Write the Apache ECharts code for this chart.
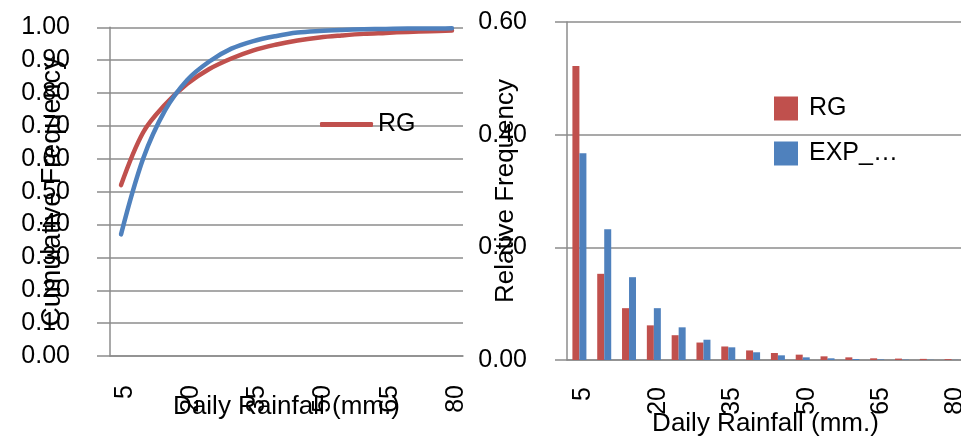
<!DOCTYPE html>
<html>
<head>
<meta charset="utf-8">
<script src="https://cdn.jsdelivr.net/npm/echarts@6/dist/echarts.min.js"></script>
<style>
  html, body { margin: 0; padding: 0; background: #ffffff; overflow: hidden; }
  #chart { width: 961px; height: 436px; }
</style>
</head>
<body>
<div id="chart"></div>
<script>
// Daily rainfall classes (mm.)
const categories = ['5', '10', '15', '20', '25', '30', '35', '40', '45', '50', '55', '60', '65', '70', '75', '80'];

// Cumulative frequency
const rgCumulative  = [0.52, 0.68, 0.765, 0.828, 0.873, 0.905, 0.93, 0.947, 0.96, 0.969, 0.975, 0.98, 0.983, 0.986, 0.988, 0.99];
const expCumulative = [0.37, 0.60, 0.748, 0.84, 0.896, 0.935, 0.958, 0.973, 0.984, 0.989, 0.992, 0.994, 0.995, 0.996, 0.996, 0.997];

// Relative frequency
const rgRelative  = [0.522, 0.153, 0.092, 0.0615, 0.044, 0.031, 0.024, 0.017, 0.0124, 0.0095, 0.0065, 0.0047, 0.003, 0.0025, 0.002, 0.0015];
const expRelative = [0.367, 0.232, 0.147, 0.092, 0.058, 0.036, 0.0225, 0.0137, 0.0083, 0.0047, 0.003, 0.0018, 0.001, 0.0006, 0.0004, 0.0002];

// Axis ticks
const cumTicks = { min: 0, max: 1, interval: 0.1 };
const relTicks = { min: 0, max: 0.6, interval: 0.2 };

const RED = '#C0504D';
const BLUE = '#4F81BD';
const GRID_GRAY = '#8C8C8C';
const FONT = '"Liberation Sans", Arial, sans-serif';

const chart = echarts.init(document.getElementById('chart'), null, { renderer: 'canvas' });

function yAxis(gridIndex, ticks, name, nameGap, nameSize, tickLen) {
  return {
    type: 'value',
    gridIndex: gridIndex,
    min: ticks.min,
    max: ticks.max,
    interval: ticks.interval,
    name: name,
    nameLocation: 'middle',
    nameGap: nameGap,
    nameRotate: 90,
    nameMoveOverlap: false,
    nameTextStyle: { fontFamily: FONT, fontSize: nameSize, color: '#000' },
    axisLine: { show: true, lineStyle: { color: GRID_GRAY, width: 1.5 } },
    axisTick: { show: true, length: tickLen, lineStyle: { color: GRID_GRAY, width: 1.5 } },
    splitLine: { show: true, lineStyle: { color: GRID_GRAY, width: 1.5 } },
    axisLabel: {
      margin: 40,
      fontFamily: FONT,
      fontSize: 25,
      color: '#000',
      formatter: v => v.toFixed(2)
    }
  };
}

function xAxis(gridIndex, margin, nameGap) {
  return {
    type: 'category',
    gridIndex: gridIndex,
    data: categories,
    boundaryGap: true,
    name: 'Daily Rainfall (mm.)',
    nameLocation: 'middle',
    nameGap: nameGap,
    nameMoveOverlap: false,
    nameTextStyle: { fontFamily: FONT, fontSize: 26, color: '#000' },
    axisLine: { show: true, lineStyle: { color: GRID_GRAY, width: 1.5 } },
    axisTick: { show: false },
    splitLine: { show: false },
    axisLabel: {
      interval: 2,
      rotate: 90,
      margin: margin,
      verticalAlign: 'top',
      lineHeight: 8,
      fontFamily: FONT,
      fontSize: 25,
      color: '#000'
    }
  };
}

const option = {
  animation: false,
  backgroundColor: '#ffffff',
  grid: [
    { left: 110, top: 27.3, width: 353, height: 328.7, containLabel: false, outerBoundsMode: 'none' },
    { left: 567, top: 22, width: 397, height: 338, containLabel: false, outerBoundsMode: 'none' }
  ],
  xAxis: [xAxis(0, 29, 38), xAxis(1, 27, 51)],
  yAxis: [
    yAxis(0, cumTicks, 'Cumulative Frequency', 44, 27, 13),
    yAxis(1, relTicks, 'Relative Frequency', 48, 26, 12)
  ],
  legend: [
    {
      data: [{ name: 'RG', icon: 'roundRect' }],
      left: 320,
      top: 112,
      padding: 0,
      itemWidth: 53,
      itemHeight: 5,
      itemGap: 10,
      textStyle: { fontFamily: FONT, fontSize: 25, color: '#000' },
      selectedMode: false
    },
    {
      data: [{ name: 'RG', icon: 'rect' }, { name: 'EXP_…', icon: 'rect' }],
      orient: 'vertical',
      left: 774,
      top: 96,
      padding: 0,
      itemWidth: 24,
      itemHeight: 24,
      itemGap: 20,
      textStyle: { fontFamily: FONT, fontSize: 25, color: '#000', padding: [0, 0, 0, 6] },
      selectedMode: false
    }
  ],
  series: [
    {
      name: 'RG',
      type: 'line',
      xAxisIndex: 0,
      yAxisIndex: 0,
      data: rgCumulative,
      smooth: 0.35,
      showSymbol: false,
      symbol: 'none',
      lineStyle: { color: RED, width: 4.5, cap: 'round' },
      itemStyle: { color: RED },
      z: 3
    },
    {
      name: 'EXP_…',
      type: 'line',
      xAxisIndex: 0,
      yAxisIndex: 0,
      data: expCumulative,
      smooth: 0.35,
      showSymbol: false,
      symbol: 'none',
      lineStyle: { color: BLUE, width: 4.5, cap: 'round' },
      itemStyle: { color: BLUE },
      z: 4
    },
    {
      name: 'RG',
      type: 'bar',
      xAxisIndex: 1,
      yAxisIndex: 1,
      data: rgRelative,
      barWidth: 7,
      barGap: '0%',
      itemStyle: { color: RED }
    },
    {
      name: 'EXP_…',
      type: 'bar',
      xAxisIndex: 1,
      yAxisIndex: 1,
      data: expRelative,
      barWidth: 7,
      barGap: '0%',
      itemStyle: { color: BLUE }
    }
  ]
};

chart.setOption(option);
</script>
</body>
</html>
